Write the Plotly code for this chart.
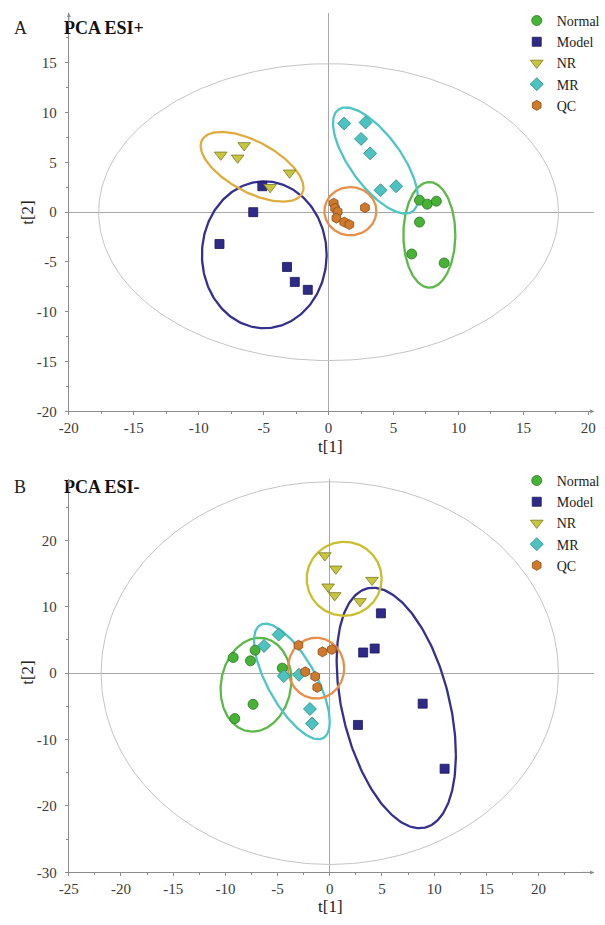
import numpy as np
import plotly.graph_objects as go

groups = ["Normal", "Model", "NR", "MR", "QC"]

# ---------------- Panel A : PCA ESI+ ----------------
a_x = {
    "Normal": [7.0, 7.6, 8.3, 7.0, 6.4, 8.9],
    "Model": [-5.1, -5.8, -8.4, -3.2, -2.6, -1.6],
    "NR": [-8.3, -7.0, -6.5, -3.0, -4.5],
    "MR": [1.2, 2.85, 2.5, 3.2, 4.0, 5.2],
    "QC": [0.4, 0.5, 0.7, 0.6, 1.2, 1.6, 2.8],
}
a_y = {
    "Normal": [1.2, 0.8, 1.1, -1.0, -4.2, -5.1],
    "Model": [2.6, 0.0, -3.2, -5.5, -7.0, -7.8],
    "NR": [5.75, 5.45, 6.7, 3.95, 2.5],
    "MR": [8.9, 9.0, 7.35, 5.9, 2.2, 2.6],
    "QC": [0.9, 0.4, 0.05, -0.6, -1.0, -1.25, 0.45],
}
# group confidence ellipses: centre x, centre y, half width, half height, correlation
a_ell = {
    "Normal": (7.76, -2.28, 2.0, 5.3, 0.0),
    "Model": (-4.95, -4.28, 4.8, 7.37, 0.0),
    "NR": (-5.89, 4.55, 3.96, 3.5, -0.6),
    "MR": (3.61, 5.18, 3.27, 5.33, -0.7),
    "QC": (1.68, 0.1, 2.0, 2.42, 0.0),
}
a_hotelling = (0.0, 0.0, 17.7, 14.9, 0.0)

# ---------------- Panel B : PCA ESI- ----------------
b_x = {
    "Normal": [-9.25, -7.6, -7.15, -4.55, -7.35, -9.1],
    "Model": [4.9, 4.3, 3.2, 8.9, 2.7, 11.0],
    "NR": [-0.47, 0.59, -0.16, 0.47, 4.05, 2.9],
    "MR": [-4.9, -6.3, -4.4, -2.95, -1.9, -1.7],
    "QC": [-3.0, -0.7, 0.2, -2.35, -1.4, -1.2],
}
b_y = {
    "Normal": [2.35, 1.85, 3.45, 0.75, -4.7, -6.85],
    "Model": [9.0, 3.7, 3.1, -4.6, -7.8, -14.4],
    "NR": [17.7, 15.7, 13.0, 11.7, 14.0, 10.8],
    "MR": [5.8, 4.1, -0.45, -0.25, -5.4, -7.6],
    "QC": [4.2, 3.2, 3.55, 0.2, -0.5, -2.15],
}
b_ell = {
    "Normal": (-7.07, -1.75, 3.39, 7.06, 0.1),
    "Model": (6.37, -5.25, 5.71, 18.1, -0.39),
    "NR": (1.38, 14.2, 3.59, 5.57, 0.0),
    "MR": (-3.63, -1.25, 3.63, 8.7, -0.70),
    "QC": (-1.31, 0.75, 2.69, 4.58, 0.0),
}
b_hotelling = (0.0, 0.0, 21.9, 28.8, 0.0)

# tick labels
a_xticks = [-20, -15, -10, -5, 0, 5, 10, 15, 20]
a_yticks = [-20, -15, -10, -5, 0, 5, 10, 15]
b_xticks = [-25, -20, -15, -10, -5, 0, 5, 10, 15, 20]
b_yticks = [-30, -20, -10, 0, 10, 20]

# ---------------- styles ----------------
symbols = {"Normal": "circle", "Model": "square", "NR": "triangle-down",
           "MR": "diamond", "QC": "hexagon"}
sizes = {"Normal": 10, "Model": 9, "NR": 11, "MR": 10, "QC": 10}
fills = {"Normal": "#46b236", "Model": "#2e2a88", "NR": "#c8c63e",
         "MR": "#4cc3c1", "QC": "#cf7a2b"}
edges = {"Normal": "#2d7424", "Model": "#1b1858", "NR": "#7a7a24",
         "MR": "#2b8886", "QC": "#8a4c16"}
a_ellcol = {"Normal": "#5cb848", "Model": "#35308f", "NR": "#e0ac3e",
            "MR": "#4ec5c5", "QC": "#e88f4b"}
b_ellcol = {"Normal": "#5cb848", "Model": "#35308f", "NR": "#c9bf2e",
            "MR": "#4ec5c5", "QC": "#e88f4b"}
SERIF = "Liberation Serif"
W, H = 605, 925


def ellipse(p, n=240):
    cx, cy, hw, hh, rho = p
    t = np.linspace(0, 2 * np.pi, n)
    return cx + hw * np.cos(t), cy + hh * np.cos(t - np.arccos(rho))


fig = go.Figure()

for xs, ys, ells, hot, ecol, xa, ya, leg in [
    (a_x, a_y, a_ell, a_hotelling, a_ellcol, "x", "y", "legend"),
    (b_x, b_y, b_ell, b_hotelling, b_ellcol, "x2", "y2", "legend2"),
]:
    hx, hy = ellipse(hot)
    fig.add_trace(go.Scatter(x=hx, y=hy, mode="lines", xaxis=xa, yaxis=ya,
                             line=dict(color="#c4c4c4", width=1),
                             showlegend=False, hoverinfo="skip"))
    for g in groups:
        ex, ey = ellipse(ells[g])
        fig.add_trace(go.Scatter(x=ex, y=ey, mode="lines", xaxis=xa, yaxis=ya,
                                 line=dict(color=ecol[g], width=2.3),
                                 showlegend=False, hoverinfo="skip"))
    for g in groups:
        fig.add_trace(go.Scatter(
            x=xs[g], y=ys[g], mode="markers", name=g, xaxis=xa, yaxis=ya,
            legend=leg,
            marker=dict(symbol=symbols[g], size=sizes[g], color=fills[g],
                        line=dict(color=edges[g], width=0.8))))

tickfont = dict(family=SERIF, size=15, color="#3a3a3a")
common = dict(showgrid=False, showline=True, linecolor="#8c8c8c", linewidth=1,
              zeroline=True, zerolinecolor="#a8a8a8", zerolinewidth=1,
              ticks="outside", ticklen=3, tickcolor="#8c8c8c", tickfont=tickfont,
              tickmode="array", fixedrange=True)


def minor(vals):
    return dict(tickvals=list(vals), ticks="outside", ticklen=2, tickcolor="#8c8c8c")


xdom = [60 / W, 596 / W]
fig.update_layout(
    width=W, height=H, margin=dict(l=0, r=0, t=0, b=0),
    paper_bgcolor="white", plot_bgcolor="white",
    xaxis=dict(domain=xdom, range=[-20, 20.45], anchor="y",
               tickvals=a_xticks, ticktext=[str(v) for v in a_xticks],
               minor=minor(np.arange(-17.5, 20, 5)), **common),
    yaxis=dict(domain=[1 - 415 / H, 1 - 13 / H], range=[-20, 20], anchor="x",
               tickvals=a_yticks, ticktext=[str(v) for v in a_yticks],
               ticklabelstandoff=5, minor=minor(np.arange(-17.5, 20, 5)), **common),
    xaxis2=dict(domain=xdom, range=[-25, 25.33], anchor="y2",
                tickvals=b_xticks, ticktext=[str(v) for v in b_xticks],
                minor=minor(np.arange(-22.5, 25, 5)), **common),
    yaxis2=dict(domain=[1 - 880 / H, 1 - 483 / H], range=[-30, 29.25], anchor="x2",
                tickvals=b_yticks, ticktext=[str(v) for v in b_yticks],
                ticklabelstandoff=5, minor=minor(np.arange(-25, 30, 10)), **common),
    legend=dict(x=517 / W, y=1 - 5 / H, xanchor="left", yanchor="top",
                font=dict(family=SERIF, size=14, color="#222"),
                bgcolor="rgba(0,0,0,0)", itemwidth=30, tracegroupgap=0),
    legend2=dict(x=517 / W, y=1 - 469 / H, xanchor="left", yanchor="top",
                 font=dict(family=SERIF, size=14, color="#222"),
                 bgcolor="rgba(0,0,0,0)", itemwidth=30, tracegroupgap=0),
)

ann = []
for label, title, ytop in [("A", "PCA ESI+", 28), ("B", "PCA ESI-", 491)]:
    ann.append(dict(x=2 / W, y=1 - ytop / H, xref="paper", yref="paper",
                    text=label, showarrow=False, xanchor="left", yanchor="middle",
                    font=dict(family=SERIF, size=18, color="#222")))
    ann.append(dict(x=53 / W, y=1 - ytop / H, xref="paper", yref="paper",
                    text="<b>" + title + "</b>", showarrow=False, xanchor="left",
                    yanchor="middle", font=dict(family=SERIF, size=18, color="#111")))
# axis titles
for ypx in [450, 914]:
    ann.append(dict(x=327 / W, y=1 - ypx / H, xref="paper", yref="paper", text="t[1]",
                    showarrow=False, xanchor="center", yanchor="middle",
                    font=dict(family=SERIF, size=17, color="#222")))
for ypx in [214, 678]:
    ann.append(dict(x=17 / W, y=1 - ypx / H, xref="paper", yref="paper", text="t[2]",
                    showarrow=False, textangle=-90, xanchor="center", yanchor="middle",
                    font=dict(family=SERIF, size=17, color="#222")))
# axis arrows
for xr, yr, xmin, ymin, xmax, ymax in [("x", "y", -20, -20, 20.45, 20),
                                       ("x2", "y2", -25, -30, 25.33, 29.25)]:
    ann.append(dict(x=xmin, y=ymax, xref=xr, yref=yr, ax=0, ay=14, text="",
                    showarrow=True, arrowhead=2, arrowsize=0.8, arrowwidth=1,
                    arrowcolor="#8c8c8c"))
    ann.append(dict(x=xmax, y=ymin, xref=xr, yref=yr, ax=-14, ay=0, text="",
                    showarrow=True, arrowhead=2, arrowsize=0.8, arrowwidth=1,
                    arrowcolor="#8c8c8c"))
fig.update_layout(annotations=ann)

fig.write_html("out.html")
